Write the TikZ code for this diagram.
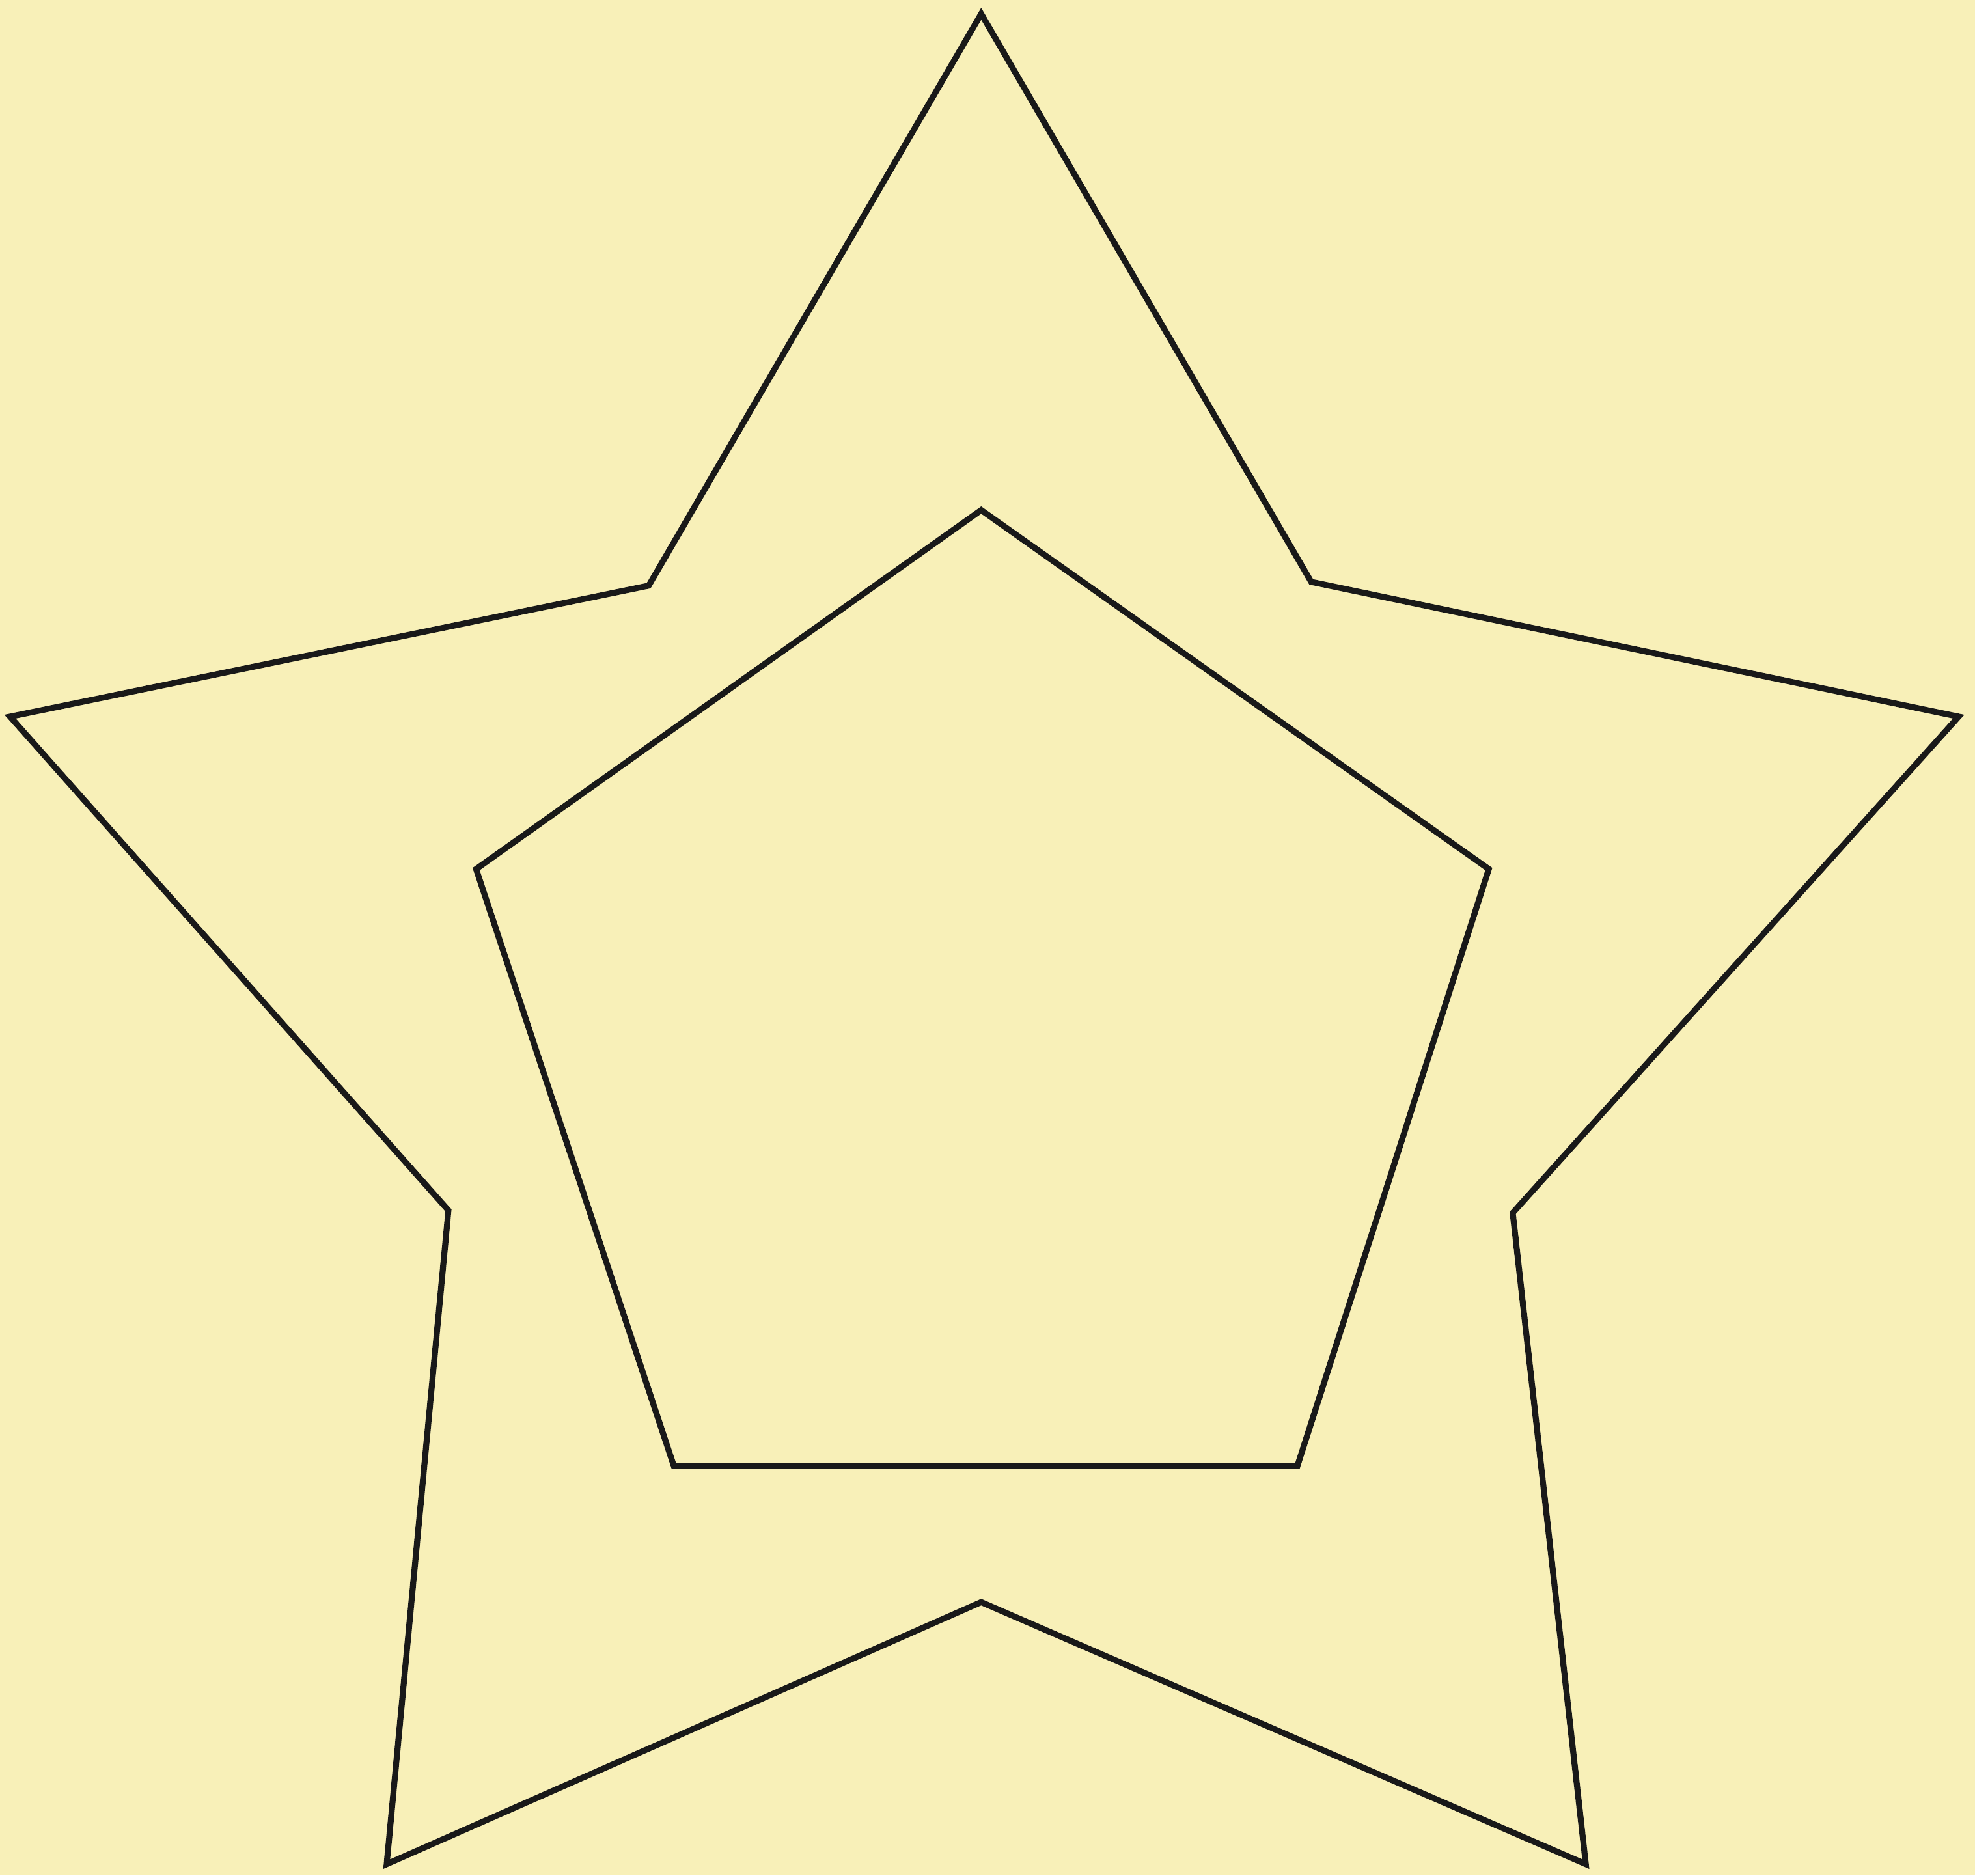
\documentclass[tikz,border=0pt]{standalone}
\usepackage{tikz}
\definecolor{paper}{RGB}{248,240,184}

\begin{document}
\begin{tikzpicture}[x=0.01cm,y=-0.01cm,outline/.style={draw=black!90,line width=1.35pt,line join=miter}]
\fill[paper] (0,0) rectangle (1568,1489);
\useasboundingbox (0,0) rectangle (1568,1489);
% outer star
\coordinate (sTop) at (779,11);
\coordinate (sUL) at (515,465);
\coordinate (sL) at (8,569);
\coordinate (sLL) at (356,961);
\coordinate (sBL) at (307,1480);
\coordinate (sB) at (779,1272);
\coordinate (sBR) at (1259,1480);
\coordinate (sLR) at (1201,963);
\coordinate (sR) at (1555,569);
\coordinate (sUR) at (1041,462);
\draw[outline] (sTop) -- (sUL) -- (sL) -- (sLL) -- (sBL) -- (sB)
   -- (sBR) -- (sLR) -- (sR) -- (sUR) -- cycle;
% inner pentagon
\coordinate (pTop) at (779,405);
\coordinate (pR) at (1182,690);
\coordinate (pBR) at (1030,1164);
\coordinate (pBL) at (535,1164);
\coordinate (pL) at (378,690);
\draw[outline] (pTop) -- (pR) -- (pBR) -- (pBL) -- (pL) -- cycle;
\end{tikzpicture}
\end{document}
